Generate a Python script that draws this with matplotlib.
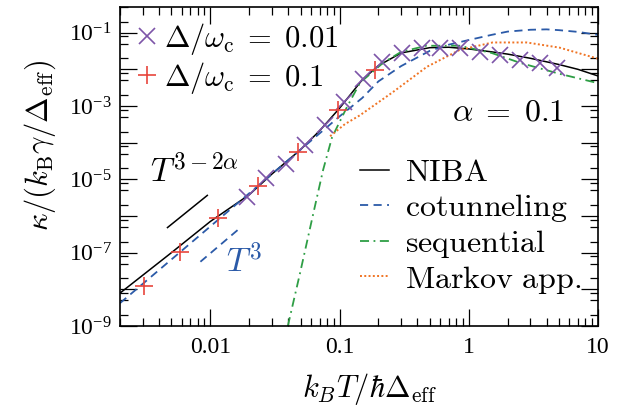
import matplotlib
matplotlib.use('Agg')
import matplotlib.pyplot as plt
from matplotlib.ticker import LogLocator, FixedLocator, FuncFormatter, NullFormatter
import numpy as np

plt.rcParams['mathtext.fontset'] = 'cm'
plt.rcParams['font.family'] = 'Liberation Serif'

# NIBA (solid black)
T_niba = [0.002, 0.005, 0.01, 0.02, 0.03, 0.05, 0.07, 0.1, 0.15, 0.2, 0.3,
          0.5, 0.7, 1, 1.5, 2, 3, 5, 7, 10]
k_niba = [7.9e-9, 1.0e-7, 7.1e-7, 3.8e-6, 1.4e-5, 6.5e-5, 2.1e-4, 8.7e-4, 5.2e-3,
          1.26e-2, 2.8e-2, 3.9e-2, 4.0e-2, 3.6e-2, 3.0e-2, 2.6e-2, 2.0e-2,
          1.35e-2, 1.0e-2, 6.6e-3]

# cotunneling (blue dashed)
T_cot = [0.002, 0.01, 0.05, 0.1, 0.15, 0.2, 0.3, 0.5, 0.7, 1, 1.5, 2, 3, 4, 5, 7, 10]
k_cot = [4.2e-9, 5.2e-7, 6.5e-5, 5.2e-4, 1.66e-3, 4.7e-3, 1.23e-2, 3.2e-2, 4.7e-2,
         6.3e-2, 8.7e-2, 1.07e-1, 1.2e-1, 1.23e-1, 1.17e-1, 1.05e-1, 8.7e-2]

# sequential (green dash-dot)
T_seq = [0.0398, 0.0495, 0.0624, 0.0746, 0.0875, 0.114, 0.144, 0.217, 0.30, 0.47,
         0.85, 1.5, 2.5, 5.0, 10]
k_seq = [1.0e-9, 2.8e-8, 1.1e-6, 1.8e-5, 1.4e-4, 9.3e-4, 4.3e-3, 1.5e-2, 3.0e-2,
         4.4e-2, 4.4e-2, 2.8e-2, 1.5e-2, 7.6e-3, 4.2e-3]

# Markov approximation (orange dotted)
T_mkv = [0.0845, 0.110, 0.144, 0.259, 0.474, 0.853, 1.53, 2.81, 5.05, 10]
k_mkv = [1.5e-4, 3.2e-4, 5.6e-4, 2.4e-3, 1.17e-2, 3.4e-2, 5.4e-2, 5.4e-2, 3.9e-2, 1.95e-2]

# numerical points, Delta/omega_c = 0.01
T_d001 = [0.0193, 0.0270, 0.0386, 0.0542, 0.0773, 0.108, 0.152, 0.213, 0.304,
          0.434, 0.597, 0.853, 1.22, 1.74, 2.48, 3.53, 4.86]
k_d001 = [3.2e-6, 1.06e-5, 2.7e-5, 8.6e-5, 3.0e-4, 1.29e-3, 5.5e-3, 1.55e-2, 2.8e-2,
          3.9e-2, 3.9e-2, 3.9e-2, 3.0e-2, 2.5e-2, 1.8e-2, 1.5e-2, 1.1e-2]

# numerical points, Delta/omega_c = 0.1
T_d01 = [0.00304, 0.00586, 0.0115, 0.0235, 0.0479, 0.0973, 0.188]
k_d01 = [1.25e-8, 1.06e-7, 8.6e-7, 6.4e-6, 5.5e-5, 7.8e-4, 9.7e-3]

# power-law guides
T_guide_niba = [0.00466, 0.00948]
k_guide_niba = [4.84e-7, 3.65e-6]
T_guide_cot = [0.00838, 0.01644]
k_guide_cot = [5.66e-8, 4.27e-7]

x_ticks = [0.01, 0.1, 1, 10]

blue = '#2b5aa8'
green = '#2e9e45'
orange = '#f07424'
purple = '#7d55a8'
red = '#e8453c'

fig = plt.figure(figsize=(6.27, 4.09), dpi=100)
ax = fig.add_axes([0.1914, 0.2029, 0.7623, 0.78])

l_niba, = ax.plot(T_niba, k_niba, color='k', lw=1.1, label=r'$\mathrm{NIBA}$')
l_cot, = ax.plot(T_cot, k_cot, color=blue, lw=1.3, ls=(0, (4.5, 3)),
                 label=r'$\mathrm{cotunneling}$')
l_seq, = ax.plot(T_seq, k_seq, color=green, lw=1.3, ls=(0, (5, 2.5, 1, 2.5)),
                 label=r'$\mathrm{sequential}$')
l_mkv, = ax.plot(T_mkv, k_mkv, color=orange, lw=1.4, ls=(0, (1, 1.2)),
                 label=r'$\mathrm{Markov\ app.}$')

m1, = ax.plot(T_d001, k_d001, ls='none', marker='x', ms=12, mew=1.2, color=purple,
              label=r'$\Delta/\omega_\mathrm{c}\;=\;0.01$', zorder=5)
m2, = ax.plot(T_d01, k_d01, ls='none', marker='+', ms=13, mew=1.2, color=red,
              label=r'$\Delta/\omega_\mathrm{c}\;=\;0.1$', zorder=5)

ax.plot(T_guide_niba, k_guide_niba, color='k', lw=1.1)
ax.plot(T_guide_cot, k_guide_cot, color=blue, lw=1.3, ls=(0, (4.5, 3)))

ax.text(0.063, 0.483, r'$T^{3-2\alpha}$', transform=ax.transAxes, fontsize=24, va='center')
ax.text(0.222, 0.20, r'$T^3$', transform=ax.transAxes, fontsize=24, va='center', color=blue)
ax.text(0.695, 0.668, r'$\alpha\;=\;0.1$', transform=ax.transAxes, fontsize=23, va='center')

ax.set_xscale('log')
ax.set_yscale('log')
ax.set_xlim(0.002, 10)
ax.set_ylim(1e-9, 10 ** -0.3)

ax.xaxis.set_major_locator(FixedLocator(x_ticks))
ax.xaxis.set_major_formatter(FuncFormatter(lambda v, p: '%g' % v))
ax.xaxis.set_minor_locator(LogLocator(base=10, subs=np.arange(2, 10), numticks=20))
ax.xaxis.set_minor_formatter(NullFormatter())


def ylab(v, p):
    e = int(round(np.log10(v)))
    if e % 2 == 0:
        return ''
    return r'$\mathdefault{10^{%d}}$' % e


ax.yaxis.set_major_locator(LogLocator(base=10, numticks=20))
ax.yaxis.set_major_formatter(FuncFormatter(ylab))
ax.yaxis.set_minor_locator(LogLocator(base=10, subs=(2, 5, 8), numticks=20))
ax.yaxis.set_minor_formatter(NullFormatter())

ax.tick_params(which='both', direction='in', top=True, right=True, width=0.9)
ax.tick_params(which='major', length=12)
ax.tick_params(which='minor', length=6)
ax.tick_params(axis='x', labelsize=17, pad=8)
ax.tick_params(axis='y', labelsize=17, pad=6)
for s in ax.spines.values():
    s.set_linewidth(1.2)

ax.set_xlabel(r'$k_BT/\hbar\Delta_\mathrm{eff}$', fontsize=22)
ax.set_ylabel(r'$\kappa/(k_\mathrm{B}\gamma/\Delta_\mathrm{eff})$', fontsize=22)
ax.xaxis.set_label_coords(0.523, -0.14)
ax.yaxis.set_label_coords(-0.13, 0.567)

leg1 = ax.legend(handles=[m1, m2], loc='center left', bbox_to_anchor=(0.037, 0.840),
                 frameon=False, fontsize=22, handlelength=0.6, handletextpad=0.25,
                 borderpad=0, borderaxespad=0, labelspacing=0.1, numpoints=1)
ax.add_artist(leg1)
ax.legend(handles=[l_niba, l_cot, l_seq, l_mkv], loc='center left',
          bbox_to_anchor=(0.502, 0.310), frameon=False, fontsize=23,
          handlelength=0.9, handletextpad=0.5, borderpad=0, borderaxespad=0,
          labelspacing=0.12)

fig.savefig('out.png', dpi=100)
